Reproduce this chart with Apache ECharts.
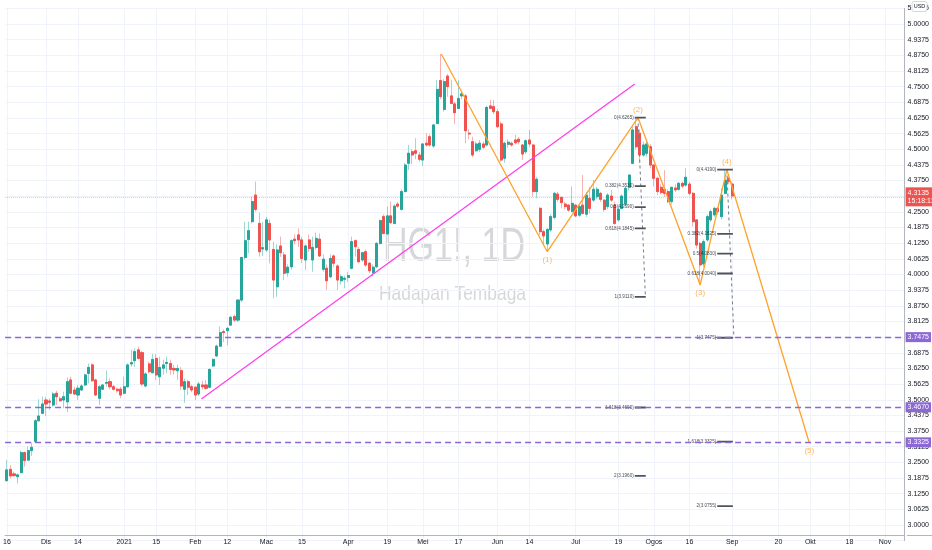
<!DOCTYPE html>
<html><head><meta charset="utf-8">
<script src="https://cdn.jsdelivr.net/npm/echarts@6/dist/echarts.min.js"></script>
<style>html,body{margin:0;padding:0;background:#fff}#c{width:932px;height:550px}</style>
</head><body><div id="c"></div>
<script>
// ---- data ----
const startDate = '2020-11-16', endDate = '2021-11-08';
const holidays = ['2020-12-25', '2021-01-01', '2021-04-02'];
const xTickDates = ['2020-11-16','2020-12-01','2020-12-14','2021-01-04','2021-01-15','2021-02-01','2021-02-12','2021-03-01','2021-03-15','2021-04-01','2021-04-19','2021-05-03','2021-05-17','2021-06-01','2021-06-14','2021-07-01','2021-07-19','2021-08-02','2021-08-16','2021-09-01','2021-09-20','2021-10-01','2021-10-18','2021-11-01'];
const xTickLabels = ['16','Dis','14','2021','15','Feb','12','Mac','15','Apr','19','Mei','17','Jun','14','Jul','19','Ogos','16','Sep','20','Okt','18','Nov'];
// [open, close, low, high]
const ohlc = [
[3.177,3.220,3.173,3.259],[3.222,3.196,3.186,3.239],[3.204,3.197,3.193,3.213],[3.193,3.200,3.166,3.206],
[3.209,3.289,3.206,3.297],[3.289,3.257,3.233,3.293],[3.259,3.297,3.257,3.313],[3.297,3.310,3.275,3.329],
[3.333,3.416,3.330,3.422],[3.416,3.435,3.412,3.502],[3.446,3.483,3.443,3.512],[3.499,3.483,3.435,3.512],
[3.495,3.490,3.459,3.506],[3.479,3.523,3.472,3.532],[3.526,3.512,3.479,3.536],[3.504,3.496,3.492,3.512],
[3.499,3.512,3.466,3.532],[3.492,3.572,3.450,3.589],[3.579,3.526,3.522,3.592],[3.539,3.523,3.519,3.552],
[3.519,3.546,3.499,3.559],[3.539,3.555,3.535,3.562],[3.559,3.599,3.555,3.605],[3.605,3.629,3.565,3.645],
[3.639,3.576,3.572,3.645],[3.579,3.519,3.515,3.584],[3.506,3.552,3.479,3.559],[3.542,3.559,3.538,3.562],
[3.566,3.569,3.552,3.616],[3.572,3.552,3.542,3.585],[3.552,3.542,3.536,3.559],[3.542,3.536,3.528,3.548],
[3.542,3.519,3.506,3.552],[3.526,3.552,3.522,3.592],[3.552,3.639,3.548,3.645],[3.643,3.648,3.632,3.699],
[3.656,3.692,3.632,3.705],[3.699,3.665,3.660,3.712],
[3.688,3.563,3.555,3.695],[3.555,3.603,3.550,3.610],[3.643,3.612,3.605,3.652],[3.608,3.661,3.605,3.683],
[3.665,3.599,3.579,3.683],[3.592,3.629,3.559,3.672],[3.626,3.639,3.600,3.660],[3.645,3.649,3.605,3.672],
[3.645,3.621,3.600,3.660],[3.625,3.619,3.600,3.640],[3.616,3.625,3.579,3.640],[3.616,3.555,3.539,3.630],
[3.542,3.572,3.488,3.585],[3.572,3.550,3.519,3.580],[3.552,3.539,3.530,3.560],[3.550,3.519,3.499,3.555],
[3.523,3.563,3.515,3.572],[3.559,3.552,3.540,3.575],[3.559,3.546,3.540,3.579],[3.550,3.621,3.545,3.625],
[3.635,3.661,3.630,3.665],[3.675,3.714,3.670,3.720],[3.714,3.768,3.712,3.792],[3.772,3.768,3.730,3.780],
[3.776,3.785,3.718,3.790],[3.798,3.829,3.795,3.835],[3.832,3.818,3.810,3.840],[3.818,3.898,3.810,3.900],
[3.898,4.068,3.890,4.070],[4.068,4.135,4.060,4.211],[4.140,4.175,4.084,4.211],[4.211,4.291,4.204,4.311],
[4.317,4.260,4.251,4.371],[4.204,4.091,4.071,4.247],[4.102,4.107,4.074,4.210],[4.098,4.218,4.090,4.230],
[4.204,4.138,4.045,4.220],[4.100,3.978,3.905,4.131],[3.951,4.098,3.911,4.120],[4.114,4.087,4.070,4.151],
[4.078,4.005,3.978,4.090],[4.007,4.029,3.991,4.040],[4.031,4.135,4.020,4.140],[4.141,4.135,4.120,4.160],
[4.158,4.138,4.110,4.184],[4.138,4.064,4.045,4.150],[4.058,4.114,4.018,4.120],[4.138,4.104,4.090,4.160],
[4.058,4.108,4.011,4.151],[4.108,4.144,4.100,4.167],[4.141,4.074,4.070,4.164],[4.021,4.061,4.011,4.080],
[4.025,3.975,3.938,4.040],[3.991,4.064,3.985,4.080],[4.074,4.045,4.030,4.080],[4.034,3.978,3.938,4.040],
[3.975,3.991,3.960,4.000],[3.981,3.985,3.945,3.995],[3.988,3.996,3.970,4.010],[4.025,4.131,4.020,4.151],
[4.135,4.111,4.071,4.140],[4.100,4.051,4.045,4.110],[4.058,4.087,4.050,4.090],[4.091,4.038,4.030,4.100],
[4.045,4.015,4.005,4.050],[4.007,4.029,3.991,4.040],[4.031,4.124,4.025,4.130],[4.124,4.215,4.120,4.220],
[4.231,4.164,4.160,4.240],[4.162,4.234,4.160,4.271],[4.234,4.207,4.200,4.291],[4.204,4.273,4.200,4.280],
[4.281,4.273,4.265,4.290],[4.260,4.331,4.255,4.340],[4.331,4.437,4.330,4.445],[4.444,4.484,4.417,4.517],
[4.490,4.477,4.440,4.500],[4.494,4.484,4.460,4.544],[4.477,4.460,4.450,4.490],[4.457,4.521,4.433,4.525],
[4.524,4.517,4.510,4.564],[4.550,4.517,4.510,4.560],
[4.513,4.597,4.505,4.600],[4.603,4.739,4.600,4.776],[4.774,4.710,4.700,4.880],[4.659,4.770,4.650,4.780],
[4.792,4.750,4.710,4.800],[4.713,4.683,4.680,4.776],[4.681,4.646,4.601,4.690],[4.663,4.703,4.660,4.776],
[4.713,4.721,4.700,4.730],[4.713,4.574,4.524,4.720],[4.564,4.561,4.540,4.580],[4.530,4.477,4.468,4.550],
[4.494,4.521,4.490,4.530],[4.500,4.524,4.490,4.537],[4.521,4.508,4.500,4.530],[4.517,4.667,4.510,4.673],
[4.673,4.663,4.660,4.697],[4.670,4.650,4.640,4.697],[4.650,4.590,4.585,4.660],[4.601,4.457,4.450,4.610],
[4.464,4.524,4.446,4.530],[4.520,4.528,4.505,4.540],[4.524,4.517,4.510,4.530],[4.537,4.526,4.520,4.557],
[4.540,4.530,4.520,4.548],[4.517,4.481,4.457,4.520],[4.490,4.534,4.480,4.540],[4.537,4.521,4.510,4.577],
[4.517,4.331,4.311,4.520],[4.331,4.380,4.304,4.390],[4.264,4.171,4.158,4.270],[4.171,4.154,4.118,4.180],
[4.122,4.180,4.095,4.185],[4.178,4.231,4.170,4.240],[4.228,4.324,4.220,4.330],[4.321,4.300,4.290,4.330],
[4.308,4.287,4.264,4.310],[4.281,4.271,4.260,4.290],[4.277,4.257,4.250,4.280],[4.251,4.284,4.250,4.351],
[4.277,4.234,4.230,4.280],[4.237,4.271,4.230,4.280],[4.277,4.244,4.240,4.397],[4.241,4.317,4.230,4.330],
[4.304,4.264,4.244,4.348],[4.297,4.340,4.290,4.377],[4.311,4.340,4.300,4.350],[4.324,4.300,4.290,4.330],
[4.297,4.260,4.251,4.300],[4.271,4.317,4.260,4.325],[4.313,4.297,4.290,4.337],[4.277,4.204,4.198,4.290],
[4.218,4.260,4.210,4.270],[4.264,4.313,4.260,4.320],[4.281,4.344,4.275,4.350],[4.348,4.397,4.335,4.400],
[4.444,4.577,4.440,4.590],[4.590,4.510,4.500,4.6265],[4.564,4.477,4.444,4.580],[4.477,4.517,4.470,4.530],
[4.484,4.521,4.470,4.530],[4.510,4.437,4.424,4.520],[4.437,4.384,4.351,4.440],[4.384,4.331,4.317,4.390],
[4.348,4.327,4.320,4.360],[4.340,4.324,4.310,4.417],[4.331,4.291,4.285,4.340],[4.291,4.348,4.280,4.350],
[4.345,4.338,4.330,4.360],[4.340,4.364,4.335,4.370],[4.364,4.353,4.345,4.371],[4.357,4.388,4.350,4.424],
[4.361,4.324,4.315,4.370],[4.324,4.211,4.191,4.330],[4.218,4.118,4.104,4.220],[4.124,4.038,3.958,4.130],
[4.042,4.131,4.030,4.140],[4.138,4.231,4.130,4.240],[4.218,4.251,4.210,4.260],[4.238,4.264,4.230,4.270],
[4.264,4.251,4.240,4.270],[4.231,4.317,4.220,4.344],[4.324,4.377,4.320,4.419],[4.384,4.371,4.360,4.390],
[4.361,4.3135,4.300,4.370]
];
// drawings (bar index, price)
const trendLine = [[54.7, 3.503], [176.6, 4.7605]];
const wavePoints = [[122.2, 4.880], [152.0, 4.091], [177.5, 4.6265], [195.0, 3.958], [202.5, 4.419], [225.7, 3.3275]];
const waveLabels = ['', '(1)', '(2)', '(3)', '(4)', '(5)'];
const fibRatios = [0, 0.382, 0.5, 0.618, 1, 1.618, 2];
const fibAPrices = [4.6265, 4.3530, 4.2690, 4.1845, 3.9110, 3.4690, 3.1960];
const fibBPrices = [4.4190, 4.1625, 4.0830, 4.0040, 3.7475, 3.3325, 3.0755];
const fibASpan = [176.6, 179.7];
const fibBSpan = [199.8, 204.2];
const fibAConnector = [[177.5, 4.6265], [179.6, 3.9110]];
const fibBConnector = [[202.5, 4.4190], [204.5, 3.7475]];
const levels = [3.7475, 3.4670, 3.3325];
const lastPrice = 4.3135;
const countdown = '15:18:13';
const yTickStep = 0.0625;

// ---- build ----
function weekdays(s, e, h) {
  const out = []; let d = new Date(s + 'T00:00:00Z'); const end = new Date(e + 'T00:00:00Z');
  while (d <= end) { const w = d.getUTCDay(); const k = d.toISOString().slice(0, 10);
    if (w !== 0 && w !== 6 && !h.includes(k)) out.push(k); d = new Date(d.getTime() + 86400000); }
  return out;
}
const categories = weekdays(startDate, endDate, holidays);
const N = categories.length;
const tickMap = {}; xTickDates.forEach((d, i) => tickMap[d] = xTickLabels[i]);
const isTick = (idx, val) => tickMap[val] !== undefined;

const UP = '#26a69a', DN = '#ef5350';
const series = [];
series.push({ type: 'candlestick', data: ohlc, barWidth: '72%', z: 2, silent: true,
  itemStyle: { color: 'rgba(38,166,154,0.45)', color0: 'rgba(239,83,80,0.45)', borderColor: 'rgba(38,166,154,0.45)', borderColor0: 'rgba(239,83,80,0.45)', borderWidth: 1 } });
const markData = levels.map(v => ({ yAxis: v, lineStyle: { color: '#8c67d6', type: [6, 4], width: 1.3 },
  label: { formatter: v.toFixed(4), backgroundColor: '#8c67d6', color: '#fff' } }));
markData.push({ yAxis: lastPrice, lineStyle: { color: 'rgba(239,83,80,0.35)', type: 'dotted', width: 1 },
  label: { formatter: lastPrice.toFixed(4) + '\n' + countdown, backgroundColor: DN, color: '#fff', lineHeight: 8 } });
series.push({ type: 'candlestick', data: ohlc.map(([o, c]) => [o, c, Math.min(o, c), Math.max(o, c)]), barWidth: '72%', z: 3, silent: true,
  itemStyle: { color: UP, color0: DN, borderColor: UP, borderColor0: DN, borderWidth: 1 },
  markLine: { silent: true, symbol: ['none', 'none'], animation: false, z: 10,
    label: { position: 'end', distance: 1, fontSize: 7, padding: [2, 2, 1, 2], fontFamily: 'Liberation Sans' },
    data: markData } });
const lineBase = { type: 'line', xAxisIndex: 1, symbol: 'none', silent: true, animation: false };
series.push(Object.assign({}, lineBase, { data: trendLine, z: 5, lineStyle: { color: '#ff40e8', width: 1.3 } }));
series.push(Object.assign({}, lineBase, { data: wavePoints, z: 6, lineStyle: { color: '#ffa22b', width: 1.3 } }));
series.push({ type: 'scatter', xAxisIndex: 1, symbolSize: 0, silent: true, z: 7,
  data: wavePoints.slice(1).map((p, i) => ({ value: p, name: waveLabels[i + 1],
    label: { show: true, position: i % 2 === 0 ? 'bottom' : 'top', distance: 4, formatter: '{b}', color: '#ffa22b', fontSize: 8, fontFamily: 'Liberation Sans' } })) });
[[fibAPrices, fibASpan, fibAConnector], [fibBPrices, fibBSpan, fibBConnector]].forEach(([prices, span, conn]) => {
  prices.forEach(p => series.push(Object.assign({}, lineBase, { data: [[span[0], p], [span[1], p]], z: 6, lineStyle: { color: '#50535e', width: 1.8 } })));
  series.push(Object.assign({}, lineBase, { data: conn, z: 5, lineStyle: { color: '#787b86', width: 1, type: [3, 3] } }));
  series.push({ type: 'scatter', xAxisIndex: 1, symbolSize: 0, silent: true, z: 7,
    data: prices.map((p, i) => ({ value: [span[0], p], name: fibRatios[i] + '(' + p.toFixed(4) + ')' })),
    label: { show: true, position: 'left', distance: 1, formatter: '{b}', color: '#131722', fontSize: 4.6, fontFamily: 'Liberation Sans' } });
});

const chart = echarts.init(document.getElementById('c'), null, { renderer: 'canvas' });
chart.setOption({
  animation: false,
  backgroundColor: '#fff',
  grid: { left: 0, right: 25, top: 8.34, bottom: 9.34 },
  xAxis: [{
    type: 'category', data: categories, boundaryGap: true, offset: -5.7,
    axisLine: { show: true, onZero: false, lineStyle: { color: '#b2b5be' } },
    axisTick: { show: false, alignWithLabel: true },
    axisLabel: { interval: isTick, formatter: v => tickMap[v] || '', color: '#131722', fontSize: 7, margin: 4, fontFamily: 'Liberation Sans' },
    splitLine: { show: true, interval: isTick, alignWithLabel: true, lineStyle: { color: '#f0f3fa' } }
  }, {
    type: 'value', min: -0.5, max: N - 0.5, show: false
  }],
  yAxis: {
    type: 'value', position: 'right', min: 2.9375, max: 5.0625, interval: yTickStep, scale: true,
    axisLine: { show: true, onZero: false, lineStyle: { color: '#b2b5be' } }, axisTick: { show: false },
    axisLabel: { showMinLabel: false, formatter: v => v.toFixed(4), color: '#131722', fontSize: 7, margin: 3, fontFamily: 'Liberation Sans' },
    splitLine: { show: true, lineStyle: { color: '#f0f3fa' } }
  },
  graphic: [
    { type: 'text', x: 454, y: 248, scaleX: 0.71, z: 0, silent: true,
      style: { text: 'HG1!, 1D', font: '48px "Liberation Sans"', fill: 'rgba(120,123,134,0.3)', textAlign: 'center', textVerticalAlign: 'middle' } },
    { type: 'text', x: 452.5, y: 294, scaleX: 0.87, z: 0, silent: true,
      style: { text: 'Hadapan Tembaga', font: '20px "Liberation Sans"', fill: 'rgba(120,123,134,0.3)', textAlign: 'center', textVerticalAlign: 'middle' } },
    { type: 'line', shape: { x1: 907, y1: 535.5, x2: 932, y2: 535.5 }, z: 50, silent: true, style: { stroke: '#b2b5be', lineWidth: 1 } },
    { type: 'rect', shape: { x: 912, y: 1.5, width: 15, height: 10, r: 2 }, z: 100, silent: true, style: { fill: '#fff', stroke: '#c9ccd4', lineWidth: 0.8 } },
    { type: 'text', x: 919.5, y: 6.8, z: 101, silent: true, style: { text: 'USD', font: '5.5px "Liberation Sans"', fill: '#131722', textAlign: 'center', textVerticalAlign: 'middle' } }
  ],
  series: series
});
</script></body></html>
